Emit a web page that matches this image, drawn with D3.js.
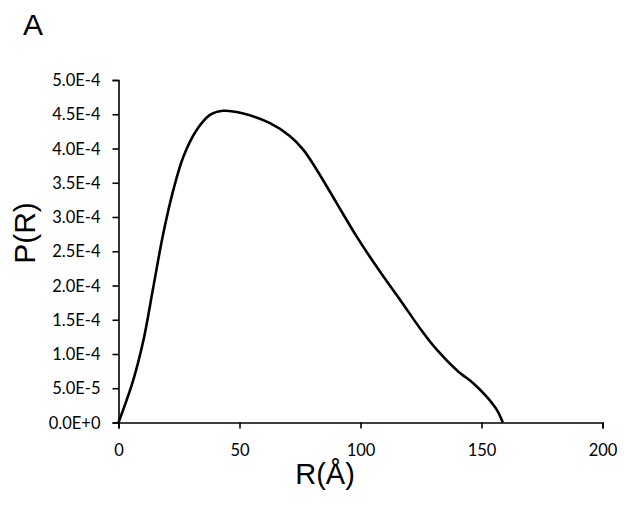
<!DOCTYPE html>
<html><head><meta charset="utf-8">
<script src="https://cdn.jsdelivr.net/npm/d3@7"></script>
<style>body{margin:0;background:#fff}svg{display:block}</style>
</head><body>
<script>
const rValues = [0, 6.1, 10.3, 14.4, 18.5, 22.7, 26.8, 32.3, 37.8, 43.3, 51.6, 62.6, 70.9, 76.4, 81.9, 90.2, 98.5, 108.1, 116.4, 124.7, 131.6, 139.9, 146.7, 152.3, 156.4, 158.8];
const pValues = [0, 0.62e-4, 1.2e-4, 1.98e-4, 2.76e-4, 3.40e-4, 3.88e-4, 4.27e-4, 4.49e-4, 4.55e-4, 4.51e-4, 4.37e-4, 4.18e-4, 3.98e-4, 3.69e-4, 3.20e-4, 2.71e-4, 2.20e-4, 1.79e-4, 1.37e-4, 1.06e-4, 0.76e-4, 0.57e-4, 0.37e-4, 0.18e-4, 0];
const xTicks = [0, 50, 100, 150, 200];
const yTicks = [0, 0.5e-4, 1e-4, 1.5e-4, 2e-4, 2.5e-4, 3e-4, 3.5e-4, 4e-4, 4.5e-4, 5e-4];
const panelLabel = "A";
const xTitle = "R(Å)";
const yTitle = "P(R)";

const W = 628, H = 512;
const m = {left: 118.5, right: 628 - 602.5, top: 80, bottom: 512 - 422.5};
const svg = d3.select("body").append("svg").attr("width", W).attr("height", H);

const x = d3.scaleLinear().domain([0, 200]).range([m.left, W - m.right]);
const y = d3.scaleLinear().domain([0, 5e-4]).range([H - m.bottom, m.top]);

const tickFont = "Lato, 'Open Sans', sans-serif";
const fmt = v => v.toExponential(1).toUpperCase();

const gx = svg.append("g").attr("transform", `translate(0,${H - m.bottom})`)
  .call(d3.axisBottom(x).tickValues(xTicks).tickSize(6).tickPadding(16).tickFormat(d3.format("d")));
const gy = svg.append("g").attr("transform", `translate(${m.left},0)`)
  .call(d3.axisLeft(y).tickValues(yTicks).tickSize(6).tickPadding(12).tickFormat(fmt));

[gx, gy].forEach(g => {
  g.select(".domain").attr("stroke", "#000").attr("stroke-width", 1.6);
  g.selectAll(".tick line").attr("stroke", "#000").attr("stroke-width", 1.6);
  g.selectAll(".tick text").attr("fill", "#000").style("font-family", tickFont).style("font-size", "16.5px");
});
gy.selectAll(".tick text").attr("dy", "0.34em");

const line = d3.line().x((d, i) => x(rValues[i])).y(d => y(d)).curve(d3.curveCatmullRom.alpha(0.5));
svg.append("path").datum(pValues).attr("d", line)
  .attr("fill", "none").attr("stroke", "#000").attr("stroke-width", 2.6).attr("stroke-linejoin", "round");

svg.append("text").attr("x", 23).attr("y", 35).text(panelLabel)
  .style("font-family", "'Liberation Sans', Arial, sans-serif").style("font-size", "30px").attr("fill", "#000");

svg.append("text").attr("x", 325).attr("y", 484).attr("text-anchor", "middle").text(xTitle)
  .style("font-family", "'Liberation Sans', Arial, sans-serif").style("font-size", "29px").attr("fill", "#000");

svg.append("text").attr("transform", "translate(35,233) rotate(-90)").attr("text-anchor", "middle").text(yTitle)
  .style("font-family", "'Liberation Sans', Arial, sans-serif").style("font-size", "30px").attr("fill", "#000");
</script>
</body></html>
